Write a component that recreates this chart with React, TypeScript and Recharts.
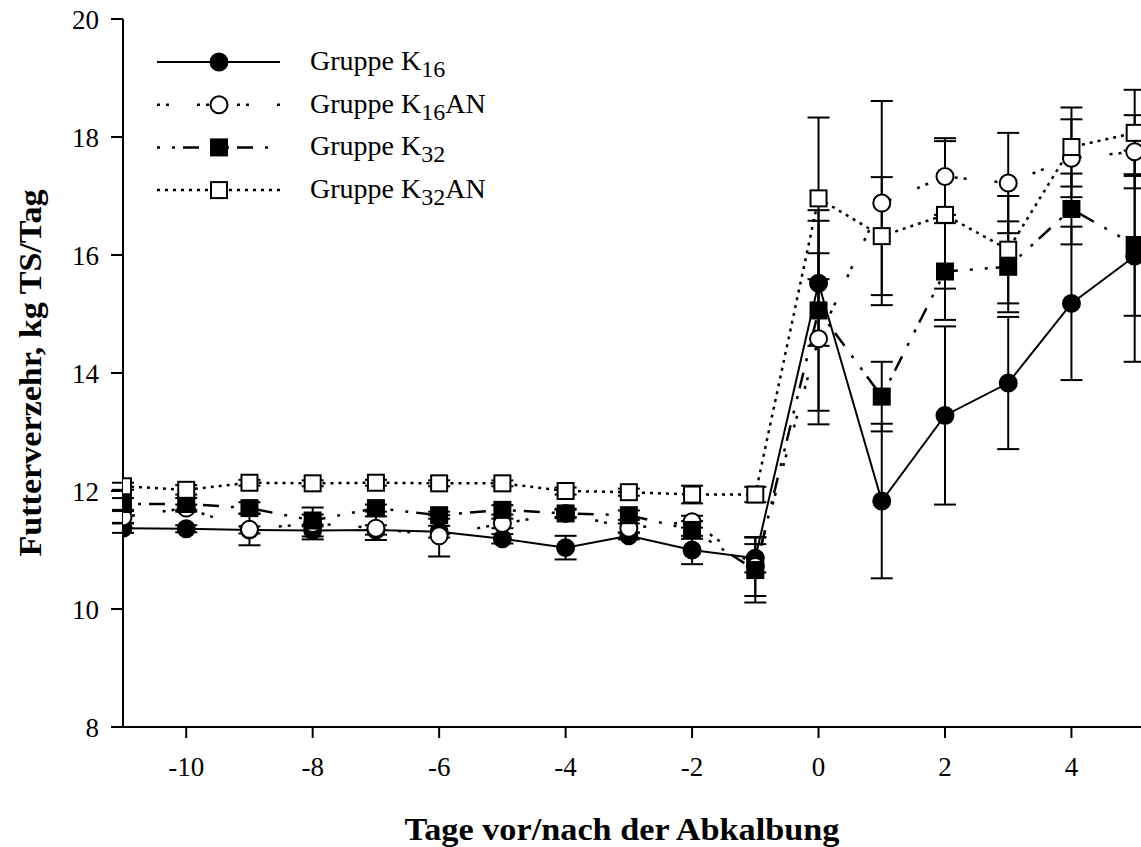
import React from 'react';
import { LineChart, Line, XAxis, YAxis, ErrorBar, Legend } from 'recharts';

// days relative to calving
const days = [-11, -10, -9, -8, -7, -6, -5, -4, -3, -2, -1, 0, 1, 2, 3, 4, 5];

const k16 = [11.37, 11.36, 11.34, 11.33, 11.34, 11.31, 11.19, 11.04, 11.24, 11.0, 10.86, 15.52, 11.83, 13.28, 13.83, 15.18, 15.98];
const k16Err = [0.08, 0.06, 0.06, 0.1, 0.08, 0.1, 0.08, 0.2, 0.06, 0.24, 0.24, 1.06, 1.31, 1.51, 1.12, 1.3, 1.79];

const k16an = [11.56, 11.71, 11.35, 11.45, 11.37, 11.24, 11.45, 11.62, 11.37, 11.48, 10.72, 14.58, 16.88, 17.33, 17.22, 17.64, 17.75];
const k16anErr = [0.1, 0.06, 0.27, 0.27, 0.2, 0.35, 0.08, 0.06, 0.08, 0.1, 0.5, 1.45, 1.73, 0.65, 0.85, 0.66, 0.62];

const k32 = [11.78, 11.78, 11.71, 11.5, 11.71, 11.59, 11.68, 11.62, 11.59, 11.34, 10.66, 15.06, 13.6, 15.72, 15.8, 16.78, 16.17];
const k32Err = [0.1, 0.1, 0.1, 0.1, 0.06, 0.06, 0.08, 0.08, 0.08, 0.15, 0.55, 1.7, 0.59, 0.82, 0.77, 0.6, 1.2];

const k32an = [12.08, 12.02, 12.14, 12.13, 12.14, 12.13, 12.13, 12.0, 11.98, 11.94, 11.94, 16.96, 16.32, 16.68, 16.09, 17.83, 18.07];
const k32anErr = [0.06, 0.08, 0.05, 0.05, 0.05, 0.05, 0.05, 0.06, 0.06, 0.15, 0.13, 1.37, 1.0, 1.25, 0.91, 0.67, 0.73];

const xTicks = [-10, -8, -6, -4, -2, 0, 2, 4];
const yTicks = [8, 10, 12, 14, 16, 18, 20];

const data = days.map((day, i) => ({
  day,
  k16: k16[i],
  k16Err: k16Err[i],
  k16an: k16an[i],
  k16anErr: k16anErr[i],
  k32: k32[i],
  k32Err: k32Err[i],
  k32an: k32an[i],
  k32anErr: k32anErr[i],
}));

type Series = {
  key: string;
  sub: string;
  suffix: string;
  shape: 'circle' | 'square';
  filled: boolean;
  dash?: string;
  width: number;
};

const series: Series[] = [
  { key: 'k16', sub: '16', suffix: '', shape: 'circle', filled: true, width: 2 },
  { key: 'k16an', sub: '16', suffix: 'AN', shape: 'circle', filled: false, dash: '3 6 3 28', width: 2.5 },
  { key: 'k32', sub: '32', suffix: '', shape: 'square', filled: true, dash: '3 12 3 8 16 12', width: 2.5 },
  { key: 'k32an', sub: '32', suffix: 'AN', shape: 'square', filled: false, dash: '3 5', width: 2.5 },
];

const FONT = "'Liberation Serif', 'Times New Roman', serif";

const Marker = ({ cx, cy, shape, filled }: { cx?: number; cy?: number; shape: string; filled: boolean }) => {
  if (cx == null || cy == null) return null;
  const fill = filled ? '#000' : '#fff';
  if (shape === 'square') {
    return <rect x={cx - 8} y={cy - 8} width={16} height={16} fill={fill} stroke="#000" strokeWidth={2} />;
  }
  return <circle cx={cx} cy={cy} r={8.5} fill={fill} stroke="#000" strokeWidth={2} />;
};

const XTick = ({ x, y, payload }: any) => (
  <text x={x} y={y} dy="0.71em" textAnchor="middle" fontSize={27} fontFamily={FONT} fill="#000">
    {payload.value}
  </text>
);

const YTick = ({ x, y, payload }: any) => (
  <text x={x} y={y} dy="0.355em" textAnchor="end" fontSize={27} fontFamily={FONT} fill="#000">
    {payload.value}
  </text>
);

const renderLegend = () => (
  <svg width={460} height={190} style={{ fontFamily: FONT, overflow: 'visible' }}>
    {series.map((s, i) => {
      const y = 32 + i * 42.7;
      return (
        <g key={s.key}>
          <line x1={0} x2={123} y1={y} y2={y} stroke="#000" strokeWidth={s.width} strokeDasharray={s.dash} />
          <Marker cx={62} cy={y} shape={s.shape} filled={s.filled} />
          <text x={153} y={y + 8} fontSize={28} fill="#000">
            Gruppe K
            <tspan fontSize={24} dy={7}>{s.sub}</tspan>
            {s.suffix ? <tspan fontSize={28} dy={-7}>{s.suffix}</tspan> : null}
          </text>
        </g>
      );
    })}
  </svg>
);

export default function App() {
  return (
    <div style={{ position: 'absolute', left: 0, top: 0, width: 1141, height: 847, background: '#fff', fontFamily: FONT }}>
      <LineChart width={1141} height={847} data={data} margin={{ top: 19, right: 0, left: 0, bottom: 0 }}>
        <XAxis
          dataKey="day"
          type="number"
          domain={[-11, 5.1]}
          ticks={xTicks}
          allowDataOverflow
          height={120}
          stroke="#000"
          strokeWidth={2}
          tickSize={11}
          tickMargin={19}
          tick={XTick}
          label={{
            content: () => (
              <text
                x={622}
                y={840}
                textAnchor="middle"
                fontSize={32}
                fontWeight="bold"
                fontFamily={FONT}
                fill="#000"
                textLength={435}
                lengthAdjust="spacingAndGlyphs"
              >
                Tage vor/nach der Abkalbung
              </text>
            ),
          }}
        />
        <YAxis
          type="number"
          domain={[8, 20]}
          ticks={yTicks}
          width={123}
          stroke="#000"
          strokeWidth={2}
          tickSize={12}
          tickMargin={12}
          tick={YTick}
          label={{
            content: () => (
              <text
                x={30}
                y={373}
                transform="rotate(-90, 30, 373)"
                textAnchor="middle"
                dominantBaseline="central"
                fontSize={31}
                fontWeight="bold"
                fontFamily={FONT}
                fill="#000"
                textLength={367}
                lengthAdjust="spacingAndGlyphs"
              >
                Futterverzehr, kg TS/Tag
              </text>
            ),
          }}
        />
        <Legend
          layout="vertical"
          align="center"
          verticalAlign="middle"
          content={renderLegend}
          wrapperStyle={{ top: 30, left: 157, width: 460, height: 190 }}
        />
        {series.map((s) => (
          <Line
            key={s.key}
            dataKey={s.key}
            type="linear"
            stroke="#000"
            strokeWidth={s.width}
            strokeDasharray={s.dash}
            isAnimationActive={false}
            dot={(p: any) => (
              <Marker key={`${s.key}-${p.index}`} cx={p.cx} cy={p.cy} shape={s.shape} filled={s.filled} />
            )}
            activeDot={false}
          >
            <ErrorBar dataKey={`${s.key}Err`} direction="y" width={11} stroke="#000" strokeWidth={2} isAnimationActive={false} />
          </Line>
        ))}
      </LineChart>
    </div>
  );
}
